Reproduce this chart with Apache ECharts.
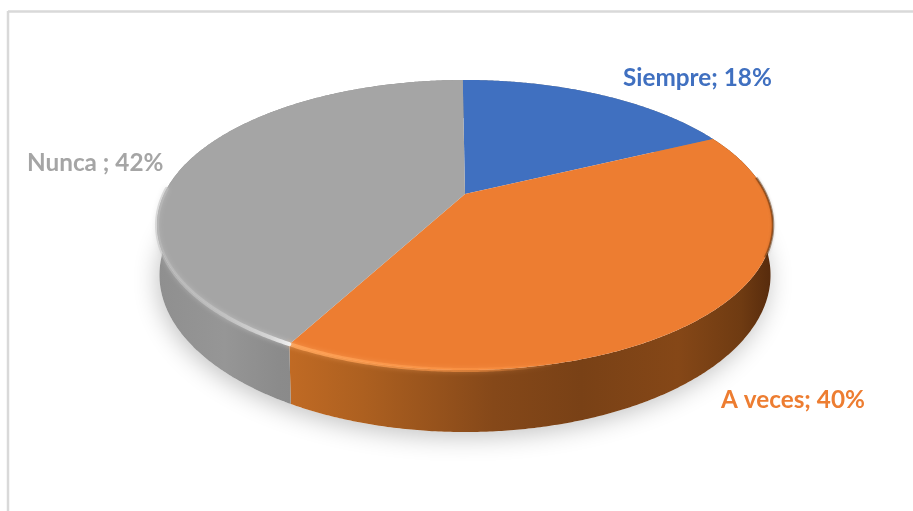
<!DOCTYPE html>
<html>
<head>
<meta charset="utf-8">
<style>html,body{margin:0;padding:0;background:#fff}#c{width:913px;height:511px}</style>
<script src="https://cdn.jsdelivr.net/npm/echarts@6/dist/echarts.min.js"></script>
</head>
<body>
<div id="c"></div>
<script>
const categories = ["Siempre", "A veces", "Nunca "];
const values = [18, 40, 42];

const colors = ["#4070C0", "#ED7D31", "#A5A5A5"];
const P = {ax: 465, ay: 194, c: 300.9, a: 138.4, b: 0.2138, start: -0.009};
const labelAt = [[623, 78, 'left'], [721, 400, 'left'], [27, 163, 'left']];
const total = values.reduce((s, v) => s + v, 0);

function topPt(t) {
  const s = Math.sin(t), u = Math.cos(t), d = 1 + P.b * u;
  return [P.ax + P.c * s / d, P.ay - P.a * u / d];
}
function lowPt(t) {
  const p = topPt(t);
  return [P.ax + (p[0] - P.ax) * 0.992, p[1] + 50 + 12 * (p[1] - 225) / 145];
}
function arc(fn, t0, t1) {
  const n = Math.max(2, Math.ceil(Math.abs(t1 - t0) / 0.008)), out = [];
  for (let i = 0; i <= n; i++) out.push(fn(t0 + (t1 - t0) * i / n));
  return out;
}
function grad(stops, x0, x1) {
  return new echarts.graphic.LinearGradient(x0, 0, x1, 0,
    stops.map(s => ({offset: s[0], color: s[1]})), true);
}
const wallFill = [
  () => '#888',
  () => grad([[0, '#c06a24'], [0.15, '#ad6020'], [0.42, '#854819'], [0.6, '#794116'], [0.8, '#854717'], [0.93, '#6f3b12'], [1, '#54290c']], 290, 775),
  () => grad([[0, '#8f8f8f'], [0.5, '#969696'], [0.9, '#8b8b8b'], [1, '#8a8a8a']], 157, 292)
];

function renderItem(params, api) {
  const i = params.dataIndex;
  const before = values.slice(0, i).reduce((s, v) => s + v, 0);
  const t0 = P.start + before / total * 2 * Math.PI;
  const t1 = P.start + (before + api.value(0)) / total * 2 * Math.PI;
  const kids = [];
  if (i === 0) {
    kids.push({type: 'polygon', z2: 0,
      shape: {points: arc(lowPt, 0, 2 * Math.PI)},
      style: {fill: '#fff', shadowBlur: 24, shadowColor: 'rgba(0,0,0,0.24)', shadowOffsetX: -2, shadowOffsetY: 5}});
  }
  kids.push({type: 'polygon', z2: 1,
    shape: {points: arc(topPt, t0, t1).concat(arc(lowPt, t1, t0))},
    style: {fill: wallFill[i]()}});
  kids.push({type: 'polygon', z2: 2,
    shape: {points: [[P.ax, P.ay]].concat(arc(topPt, t0, t1))},
    style: {fill: colors[i]}});
  if (i === 1) {
    kids.push({type: 'polyline', z2: 3,
      shape: {points: arc(topPt, t1, t1 - 0.75)},
      style: {fill: null, lineWidth: 4, lineCap: 'round', stroke: grad([[0, 'rgba(255,165,90,0.9)'], [0.7, 'rgba(255,150,70,0.55)'], [1, 'rgba(255,150,70,0)']], 290, 560), shadowBlur: 5, shadowColor: 'rgba(255,170,100,0.6)'}});
    kids.push({type: 'polyline', z2: 3,
      shape: {points: arc(topPt, 1.45, 2.0)},
      style: {fill: null, lineWidth: 2.5, stroke: 'rgba(90,45,10,0.5)', shadowBlur: 3, shadowColor: 'rgba(90,45,10,0.4)'}});
  }
  if (i === 2) {
    kids.push({type: 'polyline', z2: 3,
      shape: {points: arc(topPt, t0, 4.75)},
      style: {fill: null, lineWidth: 4, lineCap: 'round', stroke: grad([[0, 'rgba(190,190,190,0.5)'], [0.5, 'rgba(195,195,195,0.85)'], [0.85, 'rgba(215,215,215,0.95)'], [1, 'rgba(240,240,240,1)']], 157, 290), shadowBlur: 5, shadowColor: 'rgba(205,205,205,0.7)'}});
  }
  const L = labelAt[i];
  kids.push({type: 'text', z2: 5, x: L[0], y: L[1],
    style: {text: categories[i] + '; ' + api.value(0) + '%', fill: colors[i],
      font: 'bold 24.3px Lato', textAlign: L[2], textVerticalAlign: 'middle'}});
  return {type: 'group', children: kids};
}

const chart = echarts.init(document.getElementById('c'), null, {renderer: 'canvas'});
chart.setOption({
  animation: false,
  backgroundColor: '#fff',
  graphic: [
    {type: 'line', z: -1, shape: {x1: 8, y1: 11.5, x2: 913, y2: 11.5}, style: {stroke: '#d9d9d9', lineWidth: 2.5}},
    {type: 'line', z: -1, shape: {x1: 8, y1: 11, x2: 8, y2: 511}, style: {stroke: '#d9d9d9', lineWidth: 2.5}}
  ],
  series: [{
    type: 'custom',
    coordinateSystem: 'none',
    renderItem: renderItem,
    data: values.map((v, i) => ({name: categories[i], value: [v]}))
  }]
});
</script>
</body>
</html>
